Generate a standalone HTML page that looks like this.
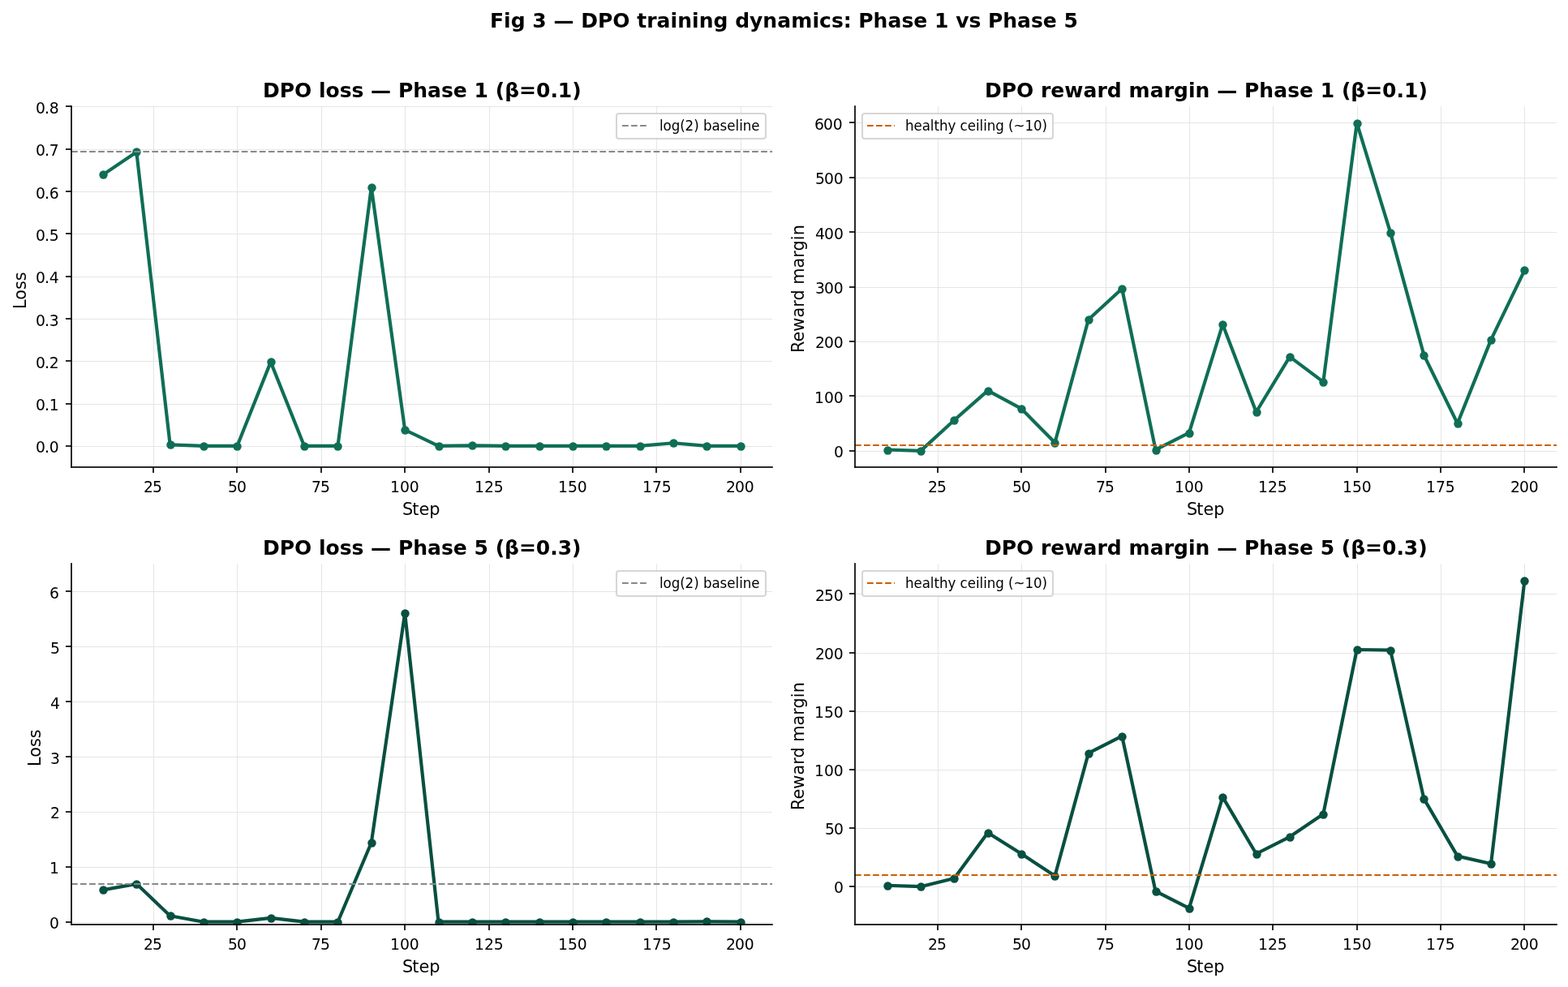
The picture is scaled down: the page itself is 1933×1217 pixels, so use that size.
<!DOCTYPE html>
<html lang="en">
<head>
<meta charset="utf-8">
<title>Fig 3 — DPO training dynamics: Phase 1 vs Phase 5</title>
<style>
html,body{margin:0;padding:0;background:#fff;}
body{width:1933px;height:1217px;}
svg{display:block;}
text{white-space:pre;}
</style>
</head>
<body>
<svg width="1933" height="1217" viewBox="0 0 1933 1217" role="img" aria-label="Fig 3: DPO training dynamics, Phase 1 vs Phase 5" font-family="'DejaVu Sans', 'Liberation Sans', sans-serif" fill="#000">
<clipPath id="clip1"><rect x="88" y="131" width="864" height="445"/></clipPath><clipPath id="clip2"><rect x="88" y="131" width="865" height="446"/></clipPath><clipPath id="clip3"><rect x="1054" y="131" width="865" height="445"/></clipPath><clipPath id="clip4"><rect x="1054" y="131" width="866" height="446"/></clipPath><clipPath id="clip5"><rect x="88" y="695" width="864" height="445"/></clipPath><clipPath id="clip6"><rect x="88" y="695" width="865" height="446"/></clipPath><clipPath id="clip7"><rect x="1054" y="695" width="865" height="445"/></clipPath><clipPath id="clip8"><rect x="1054" y="695" width="866" height="446"/></clipPath>
<g id="panel1">
<path d="M88 576L952 576L952 131L88 131Z" fill="#ffffff"/>
<path d="M189.5 576.5L189.5 131.5" fill="none" stroke="#e5e5e5" stroke-width="1.042" stroke-linecap="square" stroke-linejoin="round" clip-path="url(#clip1)"/>
<rect x="188" y="576" width="2" height="7" fill="#000000" fill-opacity="0.8353"/>
<text x="177 187.875" y="607" font-size="18.75">25</text>
<path d="M292.5 576.5L292.5 131.5" fill="none" stroke="#e5e5e5" stroke-width="1.042" stroke-linecap="square" stroke-linejoin="round" clip-path="url(#clip1)"/>
<rect x="291" y="576" width="2" height="7" fill="#000000" fill-opacity="0.8353"/>
<text x="281 291.875" y="607" font-size="18.75">50</text>
<path d="M396.5 576.5L396.5 131.5" fill="none" stroke="#e5e5e5" stroke-width="1.042" stroke-linecap="square" stroke-linejoin="round" clip-path="url(#clip1)"/>
<rect x="395" y="576" width="2" height="7" fill="#000000" fill-opacity="0.8353"/>
<text x="384 394.875" y="607" font-size="18.75">75</text>
<path d="M499.5 576.5L499.5 131.5" fill="none" stroke="#e5e5e5" stroke-width="1.042" stroke-linecap="square" stroke-linejoin="round" clip-path="url(#clip1)"/>
<rect x="498" y="576" width="2" height="7" fill="#000000" fill-opacity="0.8353"/>
<text x="481 492.875 504.75" y="607" font-size="18.75">100</text>
<path d="M603.5 576.5L603.5 131.5" fill="none" stroke="#e5e5e5" stroke-width="1.042" stroke-linecap="square" stroke-linejoin="round" clip-path="url(#clip1)"/>
<rect x="602" y="576" width="2" height="7" fill="#000000" fill-opacity="0.8353"/>
<text x="585 596.875 608.75" y="607" font-size="18.75">125</text>
<path d="M706.5 576.5L706.5 131.5" fill="none" stroke="#e5e5e5" stroke-width="1.042" stroke-linecap="square" stroke-linejoin="round" clip-path="url(#clip1)"/>
<rect x="705" y="576" width="2" height="7" fill="#000000" fill-opacity="0.8353"/>
<text x="688 699.875 711.75" y="607" font-size="18.75">150</text>
<path d="M809.5 576.5L809.5 131.5" fill="none" stroke="#e5e5e5" stroke-width="1.042" stroke-linecap="square" stroke-linejoin="round" clip-path="url(#clip1)"/>
<rect x="808" y="576" width="2" height="7" fill="#000000" fill-opacity="0.8353"/>
<text x="792 803.875 815.75" y="607" font-size="18.75">175</text>
<path d="M913.5 576.5L913.5 131.5" fill="none" stroke="#e5e5e5" stroke-width="1.042" stroke-linecap="square" stroke-linejoin="round" clip-path="url(#clip1)"/>
<rect x="912" y="576" width="2" height="7" fill="#000000" fill-opacity="0.8353"/>
<text x="895 905.875 917.75" y="607" font-size="18.75">200</text>
<text x="496 508.25 516.375 529.25" y="635" font-size="20.833">Step</text>
<path d="M88.5 550.5L952.5 550.5" fill="none" stroke="#e5e5e5" stroke-width="1.042" stroke-linecap="square" stroke-linejoin="round" clip-path="url(#clip1)"/>
<rect x="81" y="549" width="7" height="2" fill="#000000" fill-opacity="0.8353"/>
<text x="44 54.875 60.75" y="558" font-size="18.75">0.0</text>
<path d="M88.5 498.5L952.5 498.5" fill="none" stroke="#e5e5e5" stroke-width="1.042" stroke-linecap="square" stroke-linejoin="round" clip-path="url(#clip1)"/>
<rect x="81" y="497" width="7" height="2" fill="#000000" fill-opacity="0.8353"/>
<text x="44 54.875 60.75" y="506" font-size="18.75">0.1</text>
<path d="M88.5 445.5L952.5 445.5" fill="none" stroke="#e5e5e5" stroke-width="1.042" stroke-linecap="square" stroke-linejoin="round" clip-path="url(#clip1)"/>
<rect x="81" y="444" width="7" height="2" fill="#000000" fill-opacity="0.8353"/>
<text x="44 54.875 60.75" y="454" font-size="18.75">0.2</text>
<path d="M88.5 393.5L952.5 393.5" fill="none" stroke="#e5e5e5" stroke-width="1.042" stroke-linecap="square" stroke-linejoin="round" clip-path="url(#clip1)"/>
<rect x="81" y="392" width="7" height="2" fill="#000000" fill-opacity="0.8353"/>
<text x="44 54.875 60.75" y="402" font-size="18.75">0.3</text>
<path d="M88.5 341.5L952.5 341.5" fill="none" stroke="#e5e5e5" stroke-width="1.042" stroke-linecap="square" stroke-linejoin="round" clip-path="url(#clip1)"/>
<rect x="81" y="340" width="7" height="2" fill="#000000" fill-opacity="0.8353"/>
<text x="44 54.875 60.75" y="349" font-size="18.75">0.4</text>
<path d="M88.5 288.5L952.5 288.5" fill="none" stroke="#e5e5e5" stroke-width="1.042" stroke-linecap="square" stroke-linejoin="round" clip-path="url(#clip1)"/>
<rect x="81" y="287" width="7" height="2" fill="#000000" fill-opacity="0.8353"/>
<text x="44 54.875 60.75" y="297" font-size="18.75">0.5</text>
<path d="M88.5 236.5L952.5 236.5" fill="none" stroke="#e5e5e5" stroke-width="1.042" stroke-linecap="square" stroke-linejoin="round" clip-path="url(#clip1)"/>
<rect x="81" y="235" width="7" height="2" fill="#000000" fill-opacity="0.8353"/>
<text x="44 54.875 60.75" y="245" font-size="18.75">0.6</text>
<path d="M88.5 184.5L952.5 184.5" fill="none" stroke="#e5e5e5" stroke-width="1.042" stroke-linecap="square" stroke-linejoin="round" clip-path="url(#clip1)"/>
<rect x="81" y="183" width="7" height="2" fill="#000000" fill-opacity="0.8353"/>
<text x="44 54.875 60.75" y="192" font-size="18.75">0.7</text>
<path d="M88.5 131.5L952.5 131.5" fill="none" stroke="#e5e5e5" stroke-width="1.042" stroke-linecap="square" stroke-linejoin="round" clip-path="url(#clip1)"/>
<rect x="81" y="130" width="7" height="2" fill="#000000" fill-opacity="0.8353"/>
<text x="44 54.875 60.75" y="140" font-size="18.75">0.8</text>
<text transform="translate(32 381) rotate(-90)" x="0 11.25 24 34.875" y="0" font-size="20.833">Loss</text>
<path d="M126.955 215.448L168.31 187.465L209.666 548.362L251.022 549.931L292.377 549.931L333.733 446.37L375.089 549.931L416.444 549.931L457.8 230.877L499.156 530.056L540.511 549.931L581.867 549.408L623.222 549.931L664.578 549.931L705.934 549.931L747.289 549.931L788.645 549.931L830.001 546.27L871.356 549.931L912.712 549.931" fill="none" stroke="#0f6e56" stroke-width="4.167" stroke-linecap="square" stroke-linejoin="round" clip-path="url(#clip1)"/>
<g fill="#0f6e56" clip-path="url(#clip2)"><circle cx="127.5" cy="215.5" r="5.208"/><circle cx="168.5" cy="187.5" r="5.208"/><circle cx="210.5" cy="548.5" r="5.208"/><circle cx="251.5" cy="550.5" r="5.208"/><circle cx="292.5" cy="550.5" r="5.208"/><circle cx="334.5" cy="446.5" r="5.208"/><circle cx="375.5" cy="550.5" r="5.208"/><circle cx="416.5" cy="550.5" r="5.208"/><circle cx="458.5" cy="231.5" r="5.208"/><circle cx="499.5" cy="530.5" r="5.208"/><circle cx="541.5" cy="550.5" r="5.208"/><circle cx="582.5" cy="549.5" r="5.208"/><circle cx="623.5" cy="550.5" r="5.208"/><circle cx="665.5" cy="550.5" r="5.208"/><circle cx="706.5" cy="550.5" r="5.208"/><circle cx="747.5" cy="550.5" r="5.208"/><circle cx="789.5" cy="550.5" r="5.208"/><circle cx="830.5" cy="546.5" r="5.208"/><circle cx="871.5" cy="550.5" r="5.208"/><circle cx="913.5" cy="550.5" r="5.208"/></g>
<path d="M88 187L952 187" fill="none" stroke="#888888" stroke-width="2.083" stroke-linejoin="round" stroke-dasharray="7.708 3.333" clip-path="url(#clip1)"/>
<rect x="87" y="130" width="2" height="1" fill="#000000" fill-opacity="0.6980"/>
<rect x="87" y="131" width="2" height="445" fill="#000000" fill-opacity="0.8353"/>
<rect x="87" y="576" width="2" height="1" fill="#000000" fill-opacity="0.6980"/>
<rect x="87" y="575" width="1" height="2" fill="#000000" fill-opacity="0.6980"/>
<rect x="88" y="575" width="864" height="2" fill="#000000" fill-opacity="0.8353"/>
<rect x="952" y="575" width="1" height="2" fill="#000000" fill-opacity="0.6980"/>
<text x="324 344.625 362.875 384.125 392.875 401.5 418.75 433.5 448.25 457 482.125 490.875 509.125 527 544 558.75 575.75 584.5 602 610.75 622.125 640 660.875 678.375 687.75 705.25" y="120" font-size="25" font-weight="bold">DPO loss — Phase 1 (β=0.1)</text>
<path d="M763 171L940 171Q944 171 944 168L944 143Q944 140 940 140L763 140Q760 140 760 143L760 168Q760 171 763 171Z" fill="#ffffff" fill-opacity="0.8" stroke="#cccccc" stroke-width="2.083" stroke-opacity="0.8"/>
<path d="M767 155L783 155L800 155" fill="none" stroke="#888888" stroke-width="2.083" stroke-linejoin="round" stroke-dasharray="7.708 3.333"/>
<text transform="matrix(1 0 0 1.08 0 161)" x="813 817.625 827.75 838.25 844.625 855.25 861.75 867 877.5 887.625 896.375 906.625 911.25 915.875 926.375" y="0" font-size="16.667">log(2) baseline</text>
</g>
<g id="panel2">
<path d="M1054 576L1919 576L1919 131L1054 131Z" fill="#ffffff"/>
<path d="M1156.5 576.5L1156.5 131.5" fill="none" stroke="#e5e5e5" stroke-width="1.042" stroke-linecap="square" stroke-linejoin="round" clip-path="url(#clip3)"/>
<rect x="1155" y="576" width="2" height="7" fill="#000000" fill-opacity="0.8353"/>
<text x="1144 1154.875" y="607" font-size="18.75">25</text>
<path d="M1259.5 576.5L1259.5 131.5" fill="none" stroke="#e5e5e5" stroke-width="1.042" stroke-linecap="square" stroke-linejoin="round" clip-path="url(#clip3)"/>
<rect x="1258" y="576" width="2" height="7" fill="#000000" fill-opacity="0.8353"/>
<text x="1248 1258.875" y="607" font-size="18.75">50</text>
<path d="M1363.5 576.5L1363.5 131.5" fill="none" stroke="#e5e5e5" stroke-width="1.042" stroke-linecap="square" stroke-linejoin="round" clip-path="url(#clip3)"/>
<rect x="1362" y="576" width="2" height="7" fill="#000000" fill-opacity="0.8353"/>
<text x="1351 1361.875" y="607" font-size="18.75">75</text>
<path d="M1466.5 576.5L1466.5 131.5" fill="none" stroke="#e5e5e5" stroke-width="1.042" stroke-linecap="square" stroke-linejoin="round" clip-path="url(#clip3)"/>
<rect x="1465" y="576" width="2" height="7" fill="#000000" fill-opacity="0.8353"/>
<text x="1448 1459.875 1471.75" y="607" font-size="18.75">100</text>
<path d="M1569.5 576.5L1569.5 131.5" fill="none" stroke="#e5e5e5" stroke-width="1.042" stroke-linecap="square" stroke-linejoin="round" clip-path="url(#clip3)"/>
<rect x="1568" y="576" width="2" height="7" fill="#000000" fill-opacity="0.8353"/>
<text x="1551 1562.875 1574.75" y="607" font-size="18.75">125</text>
<path d="M1673.5 576.5L1673.5 131.5" fill="none" stroke="#e5e5e5" stroke-width="1.042" stroke-linecap="square" stroke-linejoin="round" clip-path="url(#clip3)"/>
<rect x="1672" y="576" width="2" height="7" fill="#000000" fill-opacity="0.8353"/>
<text x="1655 1666.875 1678.75" y="607" font-size="18.75">150</text>
<path d="M1776.5 576.5L1776.5 131.5" fill="none" stroke="#e5e5e5" stroke-width="1.042" stroke-linecap="square" stroke-linejoin="round" clip-path="url(#clip3)"/>
<rect x="1775" y="576" width="2" height="7" fill="#000000" fill-opacity="0.8353"/>
<text x="1758 1769.875 1781.75" y="607" font-size="18.75">175</text>
<path d="M1879.5 576.5L1879.5 131.5" fill="none" stroke="#e5e5e5" stroke-width="1.042" stroke-linecap="square" stroke-linejoin="round" clip-path="url(#clip3)"/>
<rect x="1878" y="576" width="2" height="7" fill="#000000" fill-opacity="0.8353"/>
<text x="1862 1872.875 1884.75" y="607" font-size="18.75">200</text>
<text x="1463 1475.25 1483.375 1496.25" y="635" font-size="20.833">Step</text>
<path d="M1054.5 556.5L1919.5 556.5" fill="none" stroke="#e5e5e5" stroke-width="1.042" stroke-linecap="square" stroke-linejoin="round" clip-path="url(#clip3)"/>
<rect x="1047" y="555" width="7" height="2" fill="#000000" fill-opacity="0.8353"/>
<text x="1028" y="564" font-size="18.75">0</text>
<path d="M1054.5 488.5L1919.5 488.5" fill="none" stroke="#e5e5e5" stroke-width="1.042" stroke-linecap="square" stroke-linejoin="round" clip-path="url(#clip3)"/>
<rect x="1047" y="487" width="7" height="2" fill="#000000" fill-opacity="0.8353"/>
<text x="1004 1015.875 1027.75" y="497" font-size="18.75">100</text>
<path d="M1054.5 421.5L1919.5 421.5" fill="none" stroke="#e5e5e5" stroke-width="1.042" stroke-linecap="square" stroke-linejoin="round" clip-path="url(#clip3)"/>
<rect x="1047" y="420" width="7" height="2" fill="#000000" fill-opacity="0.8353"/>
<text x="1005 1015.875 1027.75" y="429" font-size="18.75">200</text>
<path d="M1054.5 354.5L1919.5 354.5" fill="none" stroke="#e5e5e5" stroke-width="1.042" stroke-linecap="square" stroke-linejoin="round" clip-path="url(#clip3)"/>
<rect x="1047" y="353" width="7" height="2" fill="#000000" fill-opacity="0.8353"/>
<text x="1005 1015.875 1027.75" y="362" font-size="18.75">300</text>
<path d="M1054.5 286.5L1919.5 286.5" fill="none" stroke="#e5e5e5" stroke-width="1.042" stroke-linecap="square" stroke-linejoin="round" clip-path="url(#clip3)"/>
<rect x="1047" y="285" width="7" height="2" fill="#000000" fill-opacity="0.8353"/>
<text x="1005 1016 1027.875" y="295" font-size="18.75">400</text>
<path d="M1054.5 219.5L1919.5 219.5" fill="none" stroke="#e5e5e5" stroke-width="1.042" stroke-linecap="square" stroke-linejoin="round" clip-path="url(#clip3)"/>
<rect x="1047" y="218" width="7" height="2" fill="#000000" fill-opacity="0.8353"/>
<text x="1005 1015.875 1027.75" y="227" font-size="18.75">500</text>
<path d="M1054.5 151.5L1919.5 151.5" fill="none" stroke="#e5e5e5" stroke-width="1.042" stroke-linecap="square" stroke-linejoin="round" clip-path="url(#clip3)"/>
<rect x="1047" y="150" width="7" height="2" fill="#000000" fill-opacity="0.8353"/>
<text x="1004 1014.875 1026.75" y="160" font-size="18.75">600</text>
<text transform="translate(991 435) rotate(-90)" x="0 13.5 26.375 43.5 56.25 64.5 77.75 84.375 104.625 117.375 125.625 138.875 144.75" y="0" font-size="20.833">Reward margin</text>
<path d="M1093.705 554.525L1135.06 555.875L1176.416 517.995L1217.772 481.646L1259.127 503.915L1300.483 545.745L1341.839 393.996L1383.194 355.997L1424.55 554.525L1465.906 533.605L1507.261 400.006L1548.617 507.965L1589.972 439.816L1631.328 470.856L1672.684 151.708L1714.039 286.657L1755.395 437.796L1796.751 522.135L1838.106 418.896L1879.462 333.207" fill="none" stroke="#0f6e56" stroke-width="4.167" stroke-linecap="square" stroke-linejoin="round" clip-path="url(#clip3)"/>
<g fill="#0f6e56" clip-path="url(#clip4)"><circle cx="1094.5" cy="555.5" r="5.208"/><circle cx="1135.5" cy="556.5" r="5.208"/><circle cx="1176.5" cy="518.5" r="5.208"/><circle cx="1218.5" cy="482.5" r="5.208"/><circle cx="1259.5" cy="504.5" r="5.208"/><circle cx="1300.5" cy="546.5" r="5.208"/><circle cx="1342.5" cy="394.5" r="5.208"/><circle cx="1383.5" cy="356.5" r="5.208"/><circle cx="1425.5" cy="555.5" r="5.208"/><circle cx="1466.5" cy="534.5" r="5.208"/><circle cx="1507.5" cy="400.5" r="5.208"/><circle cx="1549.5" cy="508.5" r="5.208"/><circle cx="1590.5" cy="440.5" r="5.208"/><circle cx="1631.5" cy="471.5" r="5.208"/><circle cx="1673.5" cy="152.5" r="5.208"/><circle cx="1714.5" cy="287.5" r="5.208"/><circle cx="1755.5" cy="438.5" r="5.208"/><circle cx="1797.5" cy="522.5" r="5.208"/><circle cx="1838.5" cy="419.5" r="5.208"/><circle cx="1879.5" cy="333.5" r="5.208"/></g>
<path d="M1054 549L1919 549" fill="none" stroke="#ca6000" stroke-width="2.083" stroke-linejoin="round" stroke-dasharray="7.708 3.333" clip-path="url(#clip3)"/>
<rect x="1053" y="130" width="2" height="1" fill="#000000" fill-opacity="0.6980"/>
<rect x="1053" y="131" width="2" height="445" fill="#000000" fill-opacity="0.8353"/>
<rect x="1053" y="576" width="2" height="1" fill="#000000" fill-opacity="0.6980"/>
<rect x="1053" y="575" width="1" height="2" fill="#000000" fill-opacity="0.6980"/>
<rect x="1054" y="575" width="865" height="2" fill="#000000" fill-opacity="0.8353"/>
<rect x="1919" y="575" width="1" height="2" fill="#000000" fill-opacity="0.6980"/>
<text x="1214 1234.625 1252.875 1274.125 1282.875 1295.25 1312.25 1335.375 1352.375 1364.75 1382.625 1391.375 1417.625 1434.625 1447 1464.875 1473.5 1491.375 1500.125 1525.25 1534 1552.25 1570.125 1587.125 1601.875 1618.875 1627.625 1645.125 1653.875 1665.25 1683.125 1704 1721.5 1730.875 1748.375" y="120" font-size="25" font-weight="bold">DPO reward margin — Phase 1 (β=0.1)</text>
<path d="M1066 171L1295 171Q1298 171 1298 168L1298 143Q1298 140 1295 140L1066 140Q1063 140 1063 143L1063 168Q1063 171 1066 171Z" fill="#ffffff" fill-opacity="0.8" stroke="#cccccc" stroke-width="2.083" stroke-opacity="0.8"/>
<path d="M1069 155L1086 155L1103 155" fill="none" stroke="#ca6000" stroke-width="2.083" stroke-linejoin="round" stroke-dasharray="7.708 3.333"/>
<text transform="matrix(1 0 0 1.08 0 161)" x="1116 1126.5 1136.75 1146.875 1151.5 1158 1168.5 1178.375 1183.625 1192.75 1203 1207.625 1212.25 1216.875 1227.375 1237.875 1243.125 1249.5 1263.5 1274.125 1284.625" y="0" font-size="16.667">healthy ceiling (~10)</text>
</g>
<g id="panel3">
<path d="M88 1140L952 1140L952 695L88 695Z" fill="#ffffff"/>
<path d="M189.5 1140.5L189.5 695.5" fill="none" stroke="#e5e5e5" stroke-width="1.042" stroke-linecap="square" stroke-linejoin="round" clip-path="url(#clip5)"/>
<rect x="188" y="1140" width="2" height="7" fill="#000000" fill-opacity="0.8353"/>
<text x="177 187.875" y="1171" font-size="18.75">25</text>
<path d="M292.5 1140.5L292.5 695.5" fill="none" stroke="#e5e5e5" stroke-width="1.042" stroke-linecap="square" stroke-linejoin="round" clip-path="url(#clip5)"/>
<rect x="291" y="1140" width="2" height="7" fill="#000000" fill-opacity="0.8353"/>
<text x="281 291.875" y="1171" font-size="18.75">50</text>
<path d="M396.5 1140.5L396.5 695.5" fill="none" stroke="#e5e5e5" stroke-width="1.042" stroke-linecap="square" stroke-linejoin="round" clip-path="url(#clip5)"/>
<rect x="395" y="1140" width="2" height="7" fill="#000000" fill-opacity="0.8353"/>
<text x="384 394.875" y="1171" font-size="18.75">75</text>
<path d="M499.5 1140.5L499.5 695.5" fill="none" stroke="#e5e5e5" stroke-width="1.042" stroke-linecap="square" stroke-linejoin="round" clip-path="url(#clip5)"/>
<rect x="498" y="1140" width="2" height="7" fill="#000000" fill-opacity="0.8353"/>
<text x="481 492.875 504.75" y="1171" font-size="18.75">100</text>
<path d="M603.5 1140.5L603.5 695.5" fill="none" stroke="#e5e5e5" stroke-width="1.042" stroke-linecap="square" stroke-linejoin="round" clip-path="url(#clip5)"/>
<rect x="602" y="1140" width="2" height="7" fill="#000000" fill-opacity="0.8353"/>
<text x="585 596.875 608.75" y="1171" font-size="18.75">125</text>
<path d="M706.5 1140.5L706.5 695.5" fill="none" stroke="#e5e5e5" stroke-width="1.042" stroke-linecap="square" stroke-linejoin="round" clip-path="url(#clip5)"/>
<rect x="705" y="1140" width="2" height="7" fill="#000000" fill-opacity="0.8353"/>
<text x="688 699.875 711.75" y="1171" font-size="18.75">150</text>
<path d="M809.5 1140.5L809.5 695.5" fill="none" stroke="#e5e5e5" stroke-width="1.042" stroke-linecap="square" stroke-linejoin="round" clip-path="url(#clip5)"/>
<rect x="808" y="1140" width="2" height="7" fill="#000000" fill-opacity="0.8353"/>
<text x="792 803.875 815.75" y="1171" font-size="18.75">175</text>
<path d="M913.5 1140.5L913.5 695.5" fill="none" stroke="#e5e5e5" stroke-width="1.042" stroke-linecap="square" stroke-linejoin="round" clip-path="url(#clip5)"/>
<rect x="912" y="1140" width="2" height="7" fill="#000000" fill-opacity="0.8353"/>
<text x="895 905.875 917.75" y="1171" font-size="18.75">200</text>
<text x="496 508.25 516.375 529.25" y="1199" font-size="20.833">Step</text>
<path d="M88.5 1137.5L952.5 1137.5" fill="none" stroke="#e5e5e5" stroke-width="1.042" stroke-linecap="square" stroke-linejoin="round" clip-path="url(#clip5)"/>
<rect x="81" y="1136" width="7" height="2" fill="#000000" fill-opacity="0.8353"/>
<text x="61" y="1145" font-size="18.75">0</text>
<path d="M88.5 1069.5L952.5 1069.5" fill="none" stroke="#e5e5e5" stroke-width="1.042" stroke-linecap="square" stroke-linejoin="round" clip-path="url(#clip5)"/>
<rect x="81" y="1068" width="7" height="2" fill="#000000" fill-opacity="0.8353"/>
<text x="61" y="1077" font-size="18.75">1</text>
<path d="M88.5 1001.5L952.5 1001.5" fill="none" stroke="#e5e5e5" stroke-width="1.042" stroke-linecap="square" stroke-linejoin="round" clip-path="url(#clip5)"/>
<rect x="81" y="1000" width="7" height="2" fill="#000000" fill-opacity="0.8353"/>
<text x="62" y="1009" font-size="18.75">2</text>
<path d="M88.5 933.5L952.5 933.5" fill="none" stroke="#e5e5e5" stroke-width="1.042" stroke-linecap="square" stroke-linejoin="round" clip-path="url(#clip5)"/>
<rect x="81" y="932" width="7" height="2" fill="#000000" fill-opacity="0.8353"/>
<text x="62" y="942" font-size="18.75">3</text>
<path d="M88.5 865.5L952.5 865.5" fill="none" stroke="#e5e5e5" stroke-width="1.042" stroke-linecap="square" stroke-linejoin="round" clip-path="url(#clip5)"/>
<rect x="81" y="864" width="7" height="2" fill="#000000" fill-opacity="0.8353"/>
<text x="62" y="874" font-size="18.75">4</text>
<path d="M88.5 797.5L952.5 797.5" fill="none" stroke="#e5e5e5" stroke-width="1.042" stroke-linecap="square" stroke-linejoin="round" clip-path="url(#clip5)"/>
<rect x="81" y="796" width="7" height="2" fill="#000000" fill-opacity="0.8353"/>
<text x="62" y="806" font-size="18.75">5</text>
<path d="M88.5 729.5L952.5 729.5" fill="none" stroke="#e5e5e5" stroke-width="1.042" stroke-linecap="square" stroke-linejoin="round" clip-path="url(#clip5)"/>
<rect x="81" y="728" width="7" height="2" fill="#000000" fill-opacity="0.8353"/>
<text x="61" y="738" font-size="18.75">6</text>
<text transform="translate(50 945) rotate(-90)" x="0 11.25 24 34.875" y="0" font-size="20.833">Loss</text>
<path d="M126.955 1097.322L168.31 1089.856L209.666 1129.223L251.022 1136.69L292.377 1136.69L333.733 1131.938L375.089 1136.69L416.444 1136.69L457.8 1038.949L499.156 755.909L540.511 1136.69L581.867 1136.69L623.222 1136.69L664.578 1136.69L705.934 1136.69L747.289 1136.69L788.645 1136.69L830.001 1136.69L871.356 1136.418L912.712 1136.69" fill="none" stroke="#085041" stroke-width="4.167" stroke-linecap="square" stroke-linejoin="round" clip-path="url(#clip5)"/>
<g fill="#085041" clip-path="url(#clip6)"><circle cx="127.5" cy="1097.5" r="5.208"/><circle cx="168.5" cy="1090.5" r="5.208"/><circle cx="210.5" cy="1129.5" r="5.208"/><circle cx="251.5" cy="1137.5" r="5.208"/><circle cx="292.5" cy="1137.5" r="5.208"/><circle cx="334.5" cy="1132.5" r="5.208"/><circle cx="375.5" cy="1137.5" r="5.208"/><circle cx="416.5" cy="1137.5" r="5.208"/><circle cx="458.5" cy="1039.5" r="5.208"/><circle cx="499.5" cy="756.5" r="5.208"/><circle cx="541.5" cy="1137.5" r="5.208"/><circle cx="582.5" cy="1137.5" r="5.208"/><circle cx="623.5" cy="1137.5" r="5.208"/><circle cx="665.5" cy="1137.5" r="5.208"/><circle cx="706.5" cy="1137.5" r="5.208"/><circle cx="747.5" cy="1137.5" r="5.208"/><circle cx="789.5" cy="1137.5" r="5.208"/><circle cx="830.5" cy="1137.5" r="5.208"/><circle cx="871.5" cy="1136.5" r="5.208"/><circle cx="913.5" cy="1137.5" r="5.208"/></g>
<path d="M88 1090L952 1090" fill="none" stroke="#888888" stroke-width="2.083" stroke-linejoin="round" stroke-dasharray="7.708 3.333" clip-path="url(#clip5)"/>
<rect x="87" y="694" width="2" height="1" fill="#000000" fill-opacity="0.6980"/>
<rect x="87" y="695" width="2" height="445" fill="#000000" fill-opacity="0.8353"/>
<rect x="87" y="1140" width="2" height="1" fill="#000000" fill-opacity="0.6980"/>
<rect x="87" y="1139" width="1" height="2" fill="#000000" fill-opacity="0.6980"/>
<rect x="88" y="1139" width="864" height="2" fill="#000000" fill-opacity="0.8353"/>
<rect x="952" y="1139" width="1" height="2" fill="#000000" fill-opacity="0.6980"/>
<text x="324 344.625 362.875 384.125 392.875 401.5 418.75 433.5 448.25 457 482.125 490.875 509.125 527 544 558.75 575.75 584.5 601.875 610.625 622 639.875 660.75 678.25 687.625 705" y="684" font-size="25" font-weight="bold">DPO loss — Phase 5 (β=0.3)</text>
<path d="M763 735L940 735Q944 735 944 732L944 707Q944 704 940 704L763 704Q760 704 760 707L760 732Q760 735 763 735Z" fill="#ffffff" fill-opacity="0.8" stroke="#cccccc" stroke-width="2.083" stroke-opacity="0.8"/>
<path d="M767 719L783 719L800 719" fill="none" stroke="#888888" stroke-width="2.083" stroke-linejoin="round" stroke-dasharray="7.708 3.333"/>
<text transform="matrix(1 0 0 1.08 0 725)" x="813 817.625 827.75 838.25 844.625 855.25 861.75 867 877.5 887.625 896.375 906.625 911.25 915.875 926.375" y="0" font-size="16.667">log(2) baseline</text>
</g>
<g id="panel4">
<path d="M1054 1140L1919 1140L1919 695L1054 695Z" fill="#ffffff"/>
<path d="M1156.5 1140.5L1156.5 695.5" fill="none" stroke="#e5e5e5" stroke-width="1.042" stroke-linecap="square" stroke-linejoin="round" clip-path="url(#clip7)"/>
<rect x="1155" y="1140" width="2" height="7" fill="#000000" fill-opacity="0.8353"/>
<text x="1144 1154.875" y="1171" font-size="18.75">25</text>
<path d="M1259.5 1140.5L1259.5 695.5" fill="none" stroke="#e5e5e5" stroke-width="1.042" stroke-linecap="square" stroke-linejoin="round" clip-path="url(#clip7)"/>
<rect x="1258" y="1140" width="2" height="7" fill="#000000" fill-opacity="0.8353"/>
<text x="1248 1258.875" y="1171" font-size="18.75">50</text>
<path d="M1363.5 1140.5L1363.5 695.5" fill="none" stroke="#e5e5e5" stroke-width="1.042" stroke-linecap="square" stroke-linejoin="round" clip-path="url(#clip7)"/>
<rect x="1362" y="1140" width="2" height="7" fill="#000000" fill-opacity="0.8353"/>
<text x="1351 1361.875" y="1171" font-size="18.75">75</text>
<path d="M1466.5 1140.5L1466.5 695.5" fill="none" stroke="#e5e5e5" stroke-width="1.042" stroke-linecap="square" stroke-linejoin="round" clip-path="url(#clip7)"/>
<rect x="1465" y="1140" width="2" height="7" fill="#000000" fill-opacity="0.8353"/>
<text x="1448 1459.875 1471.75" y="1171" font-size="18.75">100</text>
<path d="M1569.5 1140.5L1569.5 695.5" fill="none" stroke="#e5e5e5" stroke-width="1.042" stroke-linecap="square" stroke-linejoin="round" clip-path="url(#clip7)"/>
<rect x="1568" y="1140" width="2" height="7" fill="#000000" fill-opacity="0.8353"/>
<text x="1551 1562.875 1574.75" y="1171" font-size="18.75">125</text>
<path d="M1673.5 1140.5L1673.5 695.5" fill="none" stroke="#e5e5e5" stroke-width="1.042" stroke-linecap="square" stroke-linejoin="round" clip-path="url(#clip7)"/>
<rect x="1672" y="1140" width="2" height="7" fill="#000000" fill-opacity="0.8353"/>
<text x="1655 1666.875 1678.75" y="1171" font-size="18.75">150</text>
<path d="M1776.5 1140.5L1776.5 695.5" fill="none" stroke="#e5e5e5" stroke-width="1.042" stroke-linecap="square" stroke-linejoin="round" clip-path="url(#clip7)"/>
<rect x="1775" y="1140" width="2" height="7" fill="#000000" fill-opacity="0.8353"/>
<text x="1758 1769.875 1781.75" y="1171" font-size="18.75">175</text>
<path d="M1879.5 1140.5L1879.5 695.5" fill="none" stroke="#e5e5e5" stroke-width="1.042" stroke-linecap="square" stroke-linejoin="round" clip-path="url(#clip7)"/>
<rect x="1878" y="1140" width="2" height="7" fill="#000000" fill-opacity="0.8353"/>
<text x="1862 1872.875 1884.75" y="1171" font-size="18.75">200</text>
<text x="1463 1475.25 1483.375 1496.25" y="1199" font-size="20.833">Step</text>
<path d="M1054.5 1093.5L1919.5 1093.5" fill="none" stroke="#e5e5e5" stroke-width="1.042" stroke-linecap="square" stroke-linejoin="round" clip-path="url(#clip7)"/>
<rect x="1047" y="1092" width="7" height="2" fill="#000000" fill-opacity="0.8353"/>
<text x="1028" y="1101" font-size="18.75">0</text>
<path d="M1054.5 1021.5L1919.5 1021.5" fill="none" stroke="#e5e5e5" stroke-width="1.042" stroke-linecap="square" stroke-linejoin="round" clip-path="url(#clip7)"/>
<rect x="1047" y="1020" width="7" height="2" fill="#000000" fill-opacity="0.8353"/>
<text x="1017 1027.875" y="1029" font-size="18.75">50</text>
<path d="M1054.5 949.5L1919.5 949.5" fill="none" stroke="#e5e5e5" stroke-width="1.042" stroke-linecap="square" stroke-linejoin="round" clip-path="url(#clip7)"/>
<rect x="1047" y="948" width="7" height="2" fill="#000000" fill-opacity="0.8353"/>
<text x="1004 1015.875 1027.75" y="957" font-size="18.75">100</text>
<path d="M1054.5 877.5L1919.5 877.5" fill="none" stroke="#e5e5e5" stroke-width="1.042" stroke-linecap="square" stroke-linejoin="round" clip-path="url(#clip7)"/>
<rect x="1047" y="876" width="7" height="2" fill="#000000" fill-opacity="0.8353"/>
<text x="1004 1015.875 1027.75" y="885" font-size="18.75">150</text>
<path d="M1054.5 805.5L1919.5 805.5" fill="none" stroke="#e5e5e5" stroke-width="1.042" stroke-linecap="square" stroke-linejoin="round" clip-path="url(#clip7)"/>
<rect x="1047" y="804" width="7" height="2" fill="#000000" fill-opacity="0.8353"/>
<text x="1005 1015.875 1027.75" y="813" font-size="18.75">200</text>
<path d="M1054.5 732.5L1919.5 732.5" fill="none" stroke="#e5e5e5" stroke-width="1.042" stroke-linecap="square" stroke-linejoin="round" clip-path="url(#clip7)"/>
<rect x="1047" y="731" width="7" height="2" fill="#000000" fill-opacity="0.8353"/>
<text x="1005 1015.875 1027.75" y="741" font-size="18.75">250</text>
<text transform="translate(991 999) rotate(-90)" x="0 13.5 26.375 43.5 56.25 64.5 77.75 84.375 104.625 117.375 125.625 138.875 144.75" y="0" font-size="20.833">Reward margin</text>
<path d="M1093.705 1091.725L1135.06 1093.165L1176.416 1082.995L1217.772 1026.766L1259.127 1052.746L1300.483 1079.995L1341.839 928.617L1383.194 907.687L1424.55 1098.935L1465.906 1119.875L1507.261 982.746L1548.617 1052.746L1589.972 1031.816L1631.328 1003.676L1672.684 800.998L1714.039 801.588L1755.395 984.906L1796.751 1055.636L1838.106 1065.015L1879.462 715.708" fill="none" stroke="#085041" stroke-width="4.167" stroke-linecap="square" stroke-linejoin="round" clip-path="url(#clip7)"/>
<g fill="#085041" clip-path="url(#clip8)"><circle cx="1094.5" cy="1092.5" r="5.208"/><circle cx="1135.5" cy="1093.5" r="5.208"/><circle cx="1176.5" cy="1083.5" r="5.208"/><circle cx="1218.5" cy="1027.5" r="5.208"/><circle cx="1259.5" cy="1053.5" r="5.208"/><circle cx="1300.5" cy="1080.5" r="5.208"/><circle cx="1342.5" cy="929.5" r="5.208"/><circle cx="1383.5" cy="908.5" r="5.208"/><circle cx="1425.5" cy="1099.5" r="5.208"/><circle cx="1466.5" cy="1120.5" r="5.208"/><circle cx="1507.5" cy="983.5" r="5.208"/><circle cx="1549.5" cy="1053.5" r="5.208"/><circle cx="1590.5" cy="1032.5" r="5.208"/><circle cx="1631.5" cy="1004.5" r="5.208"/><circle cx="1673.5" cy="801.5" r="5.208"/><circle cx="1714.5" cy="802.5" r="5.208"/><circle cx="1755.5" cy="985.5" r="5.208"/><circle cx="1797.5" cy="1056.5" r="5.208"/><circle cx="1838.5" cy="1065.5" r="5.208"/><circle cx="1879.5" cy="716.5" r="5.208"/></g>
<path d="M1054 1079L1919 1079" fill="none" stroke="#ca6000" stroke-width="2.083" stroke-linejoin="round" stroke-dasharray="7.708 3.333" clip-path="url(#clip7)"/>
<rect x="1053" y="694" width="2" height="1" fill="#000000" fill-opacity="0.6980"/>
<rect x="1053" y="695" width="2" height="445" fill="#000000" fill-opacity="0.8353"/>
<rect x="1053" y="1140" width="2" height="1" fill="#000000" fill-opacity="0.6980"/>
<rect x="1053" y="1139" width="1" height="2" fill="#000000" fill-opacity="0.6980"/>
<rect x="1054" y="1139" width="865" height="2" fill="#000000" fill-opacity="0.8353"/>
<rect x="1919" y="1139" width="1" height="2" fill="#000000" fill-opacity="0.6980"/>
<text x="1214 1234.625 1252.875 1274.125 1282.875 1295.25 1312.25 1335.375 1352.375 1364.75 1382.625 1391.375 1417.625 1434.625 1447 1464.875 1473.5 1491.375 1500.125 1525.25 1534 1552.25 1570.125 1587.125 1601.875 1618.875 1627.625 1645 1653.75 1665.125 1683 1703.875 1721.375 1730.75 1748.125" y="684" font-size="25" font-weight="bold">DPO reward margin — Phase 5 (β=0.3)</text>
<path d="M1066 735L1295 735Q1298 735 1298 732L1298 707Q1298 704 1295 704L1066 704Q1063 704 1063 707L1063 732Q1063 735 1066 735Z" fill="#ffffff" fill-opacity="0.8" stroke="#cccccc" stroke-width="2.083" stroke-opacity="0.8"/>
<path d="M1069 719L1086 719L1103 719" fill="none" stroke="#ca6000" stroke-width="2.083" stroke-linejoin="round" stroke-dasharray="7.708 3.333"/>
<text transform="matrix(1 0 0 1.08 0 725)" x="1116 1126.5 1136.75 1146.875 1151.5 1158 1168.5 1178.375 1183.625 1192.75 1203 1207.625 1212.25 1216.875 1227.375 1237.875 1243.125 1249.5 1263.5 1274.125 1284.625" y="0" font-size="16.667">healthy ceiling (~10)</text>
</g>
<text x="604 621 629.625 647.5 656.25 673.625 682.375 707.5 716.25 736.875 755.125 776.375 785.125 797.125 809.5 826.5 835.125 853 861.625 879.5 897.375 906.125 924 940.25 958.125 975.125 1001.375 1010 1024.875 1039.625 1049.5 1058.25 1076.5 1094.375 1111.375 1126.125 1143.125 1151.875 1169.375 1178.125 1194.375 1209.125 1217.875 1236.125 1254 1271 1285.75 1302.75 1311.5" y="34" font-size="25" font-weight="bold">Fig 3 — DPO training dynamics: Phase 1 vs Phase 5</text>
</svg>
</body>
</html>
